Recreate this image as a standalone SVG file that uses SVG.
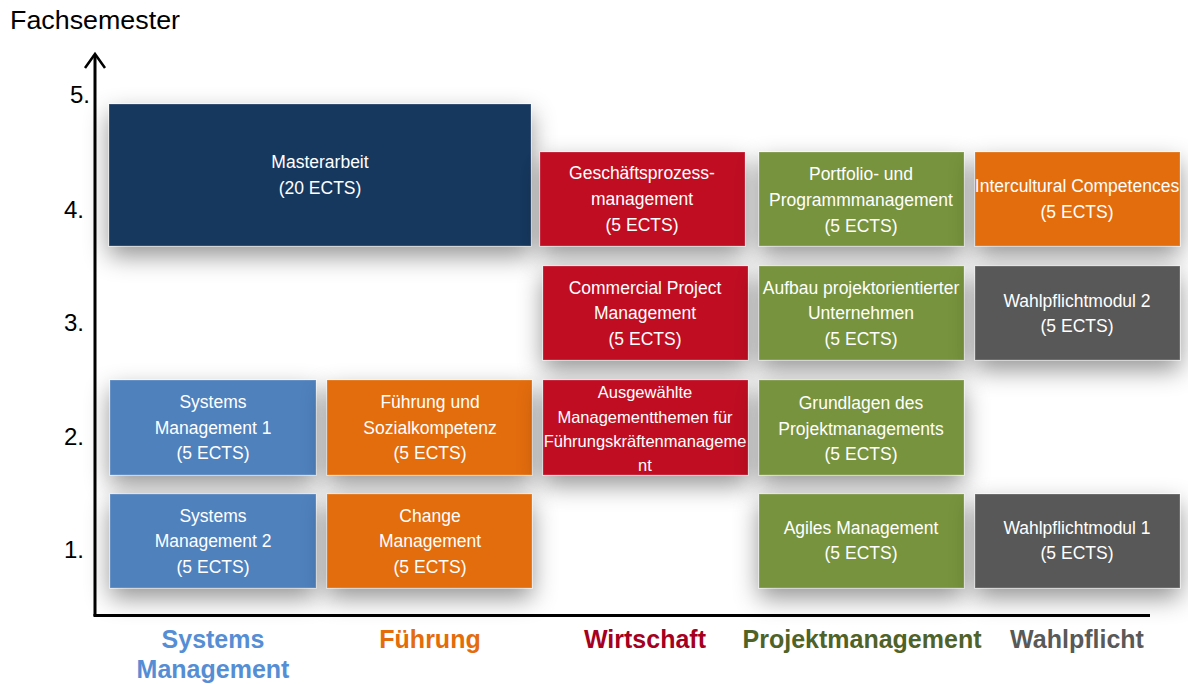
<svg xmlns="http://www.w3.org/2000/svg" width="1188" height="684" viewBox="0 0 1188 684">
<defs>
<filter id="sh" x="-25%" y="-40%" width="150%" height="190%">
<feDropShadow dx="0" dy="10" stdDeviation="12" flood-color="#000" flood-opacity="0.42"/>
</filter>
</defs>
<style>
.box{filter:url(#sh);stroke:#ffffff;stroke-opacity:0.25;stroke-width:1}
.t{font-family:"Liberation Sans",Arial,sans-serif;font-size:17.5px;fill:#fff;text-anchor:middle}
.ts{font-size:16.5px}
.ax{font-family:"Liberation Sans",Arial,sans-serif;font-size:24px;fill:#000}
.cat{font-family:"Liberation Sans",Arial,sans-serif;font-size:25px;font-weight:bold;text-anchor:middle}
.blue{fill:#4f81bd}.orange{fill:#e36c0a}.red{fill:#c00a22}.green{fill:#77933c}.gray{fill:#595959}.navy{fill:#17375e}
</style>
<rect width="1188" height="684" fill="#fff"/>
<text class="ax" x="10" y="29" style="font-size:26px" textLength="170" lengthAdjust="spacingAndGlyphs">Fachsemester</text>
<g id="labels">
<text class="ax" x="70" y="103">5.</text>
<text class="ax" x="64" y="218">4.</text>
<text class="ax" x="64" y="331">3.</text>
<text class="ax" x="64" y="445">2.</text>
<text class="ax" x="64" y="558">1.</text>
</g>
<g id="n-master"><rect class="box navy" x="109" y="104" width="422" height="142"/>
<text class="t" x="320" y="168">Masterarbeit</text><text class="t" x="320" y="194">(20 ECTS)</text></g>
<g id="n-gpm"><rect class="box red" x="540" y="152" width="205" height="94"/>
<text class="t" x="642" y="179">Geschäftsprozess-</text><text class="t" x="642" y="205">management</text><text class="t" x="642" y="231">(5 ECTS)</text></g>
<g id="n-portfolio"><rect class="box green" x="759" y="152" width="205" height="94"/>
<text class="t" x="861" y="180">Portfolio- und</text><text class="t" x="861" y="206">Programmmanagement</text><text class="t" x="861" y="232">(5 ECTS)</text></g>
<g id="n-intercultural"><rect class="box orange" x="975" y="152" width="205" height="94"/>
<text class="t" x="1077" y="192">Intercultural Competences</text><text class="t" x="1077" y="218">(5 ECTS)</text></g>
<g id="n-commercial"><rect class="box red" x="543" y="266" width="205" height="94"/>
<text class="t" x="645" y="294">Commercial Project</text><text class="t" x="645" y="319">Management</text><text class="t" x="645" y="345">(5 ECTS)</text></g>
<g id="n-aufbau"><rect class="box green" x="759" y="266" width="205" height="94"/>
<text class="t" x="861" y="294">Aufbau projektorientierter</text><text class="t" x="861" y="319">Unternehmen</text><text class="t" x="861" y="345">(5 ECTS)</text></g>
<g id="n-wp2"><rect class="box gray" x="975" y="266" width="205" height="94"/>
<text class="t" x="1077" y="307">Wahlpflichtmodul 2</text><text class="t" x="1077" y="332">(5 ECTS)</text></g>
<g id="n-sm1"><rect class="box blue" x="110" y="380" width="206" height="95"/>
<text class="t" x="213" y="408">Systems</text><text class="t" x="213" y="434">Management 1</text><text class="t" x="213" y="459">(5 ECTS)</text></g>
<g id="n-fuehrung"><rect class="box orange" x="327" y="380" width="205" height="95"/>
<text class="t" x="430" y="408">Führung und</text><text class="t" x="430" y="434">Sozialkompetenz</text><text class="t" x="430" y="459">(5 ECTS)</text></g>
<g id="n-ausgew"><rect class="box red" x="543" y="380" width="205" height="95"/>
<text class="t ts" x="645" y="398">Ausgewählte</text><text class="t ts" x="645" y="423">Managementthemen für</text><text class="t ts" x="645" y="447">Führungskräftenmanageme</text><text class="t ts" x="645" y="471">nt</text></g>
<g id="n-grundlagen"><rect class="box green" x="759" y="380" width="205" height="95"/>
<text class="t" x="861" y="409">Grundlagen des</text><text class="t" x="861" y="435">Projektmanagements</text><text class="t" x="861" y="460">(5 ECTS)</text></g>
<g id="n-sm2"><rect class="box blue" x="110" y="494" width="206" height="94"/>
<text class="t" x="213" y="522">Systems</text><text class="t" x="213" y="547">Management 2</text><text class="t" x="213" y="573">(5 ECTS)</text></g>
<g id="n-change"><rect class="box orange" x="327" y="494" width="205" height="94"/>
<text class="t" x="430" y="522">Change</text><text class="t" x="430" y="547">Management</text><text class="t" x="430" y="573">(5 ECTS)</text></g>
<g id="n-agiles"><rect class="box green" x="759" y="494" width="205" height="94"/>
<text class="t" x="861" y="534">Agiles Management</text><text class="t" x="861" y="559">(5 ECTS)</text></g>
<g id="n-wp1"><rect class="box gray" x="975" y="494" width="205" height="94"/>
<text class="t" x="1077" y="534">Wahlpflichtmodul 1</text><text class="t" x="1077" y="559">(5 ECTS)</text></g>
<g id="connectors" fill="none" stroke="#000" stroke-width="3">
<path d="M95,616 V56"/>
<path d="M85,68 L95,54 L105,68" stroke-width="2.5" stroke-linejoin="miter"/>
<path d="M93.5,615.5 H1150"/>
</g>
<g id="categories">
<text class="cat" x="213" y="648" fill="#558ed5">Systems</text>
<text class="cat" x="213" y="678" fill="#558ed5">Management</text>
<text class="cat" x="430" y="648" fill="#e46c0a">Führung</text>
<text class="cat" x="645" y="648" fill="#a50021">Wirtschaft</text>
<text class="cat" x="862" y="648" fill="#4f6228">Projektmanagement</text>
<text class="cat" x="1077" y="648" fill="#595959">Wahlpflicht</text>
</g>
</svg>
